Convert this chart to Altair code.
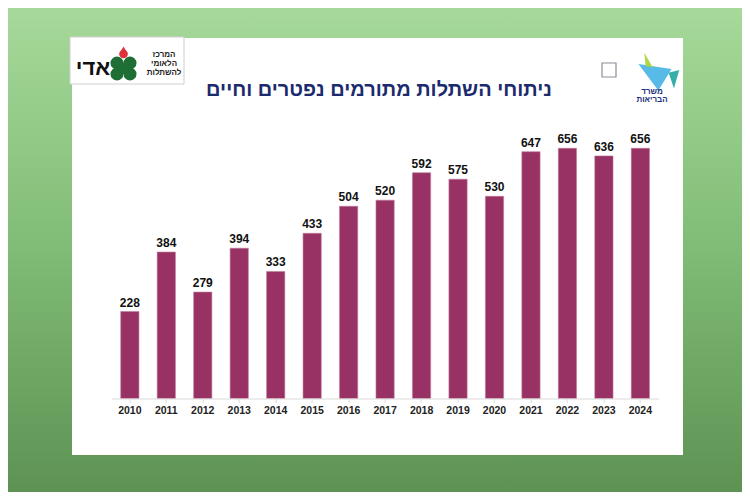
import altair as alt
import pandas as pd

years = ["2010", "2011", "2012", "2013", "2014", "2015", "2016", "2017",
         "2018", "2019", "2020", "2021", "2022", "2023", "2024"]
values = [228, 384, 279, 394, 333, 433, 504, 520, 592, 575, 530, 647, 656, 636, 656]
title_text = "ניתוחי השתלות מתורמים נפטרים וחיים"

df = pd.DataFrame({"year": years, "value": values})
dummy = alt.Data(values=[{}])

# view (plot area) geometry within the 734x484 canvas
W, H = 547, 267
PL, PT = 103.6, 123.5
CW, CH = 734, 484

grad = alt.LinearGradient(
    gradient="linear",
    stops=[alt.GradientStop(color="#a6d99a", offset=0),
           alt.GradientStop(color="#80bc76", offset=0.5),
           alt.GradientStop(color="#5d9253", offset=1)],
    x1=0, x2=0, y1=0, y2=1)

bg = alt.Chart(dummy).mark_rect(fill=grad).encode(
    x=alt.value(-PL), x2=alt.value(CW - PL),
    y=alt.value(-PT), y2=alt.value(CH - PT))

def px(page_x):
    return page_x - 8 - PL

def py(page_y):
    return page_y - 8 - PT

panel = alt.Chart(dummy).mark_rect(fill="white").encode(
    x=alt.value(px(72)), x2=alt.value(px(683)),
    y=alt.value(py(38)), y2=alt.value(py(455)))

logo_box = alt.Chart(dummy).mark_rect(fill="white", stroke="#cfcfcf", strokeWidth=1).encode(
    x=alt.value(px(70)), x2=alt.value(px(184)),
    y=alt.value(py(37)), y2=alt.value(py(84)))

def txt(s, x, y, size, color="#111", weight="bold", align="center", font="Liberation Sans"):
    return alt.Chart(dummy).mark_text(
        fontSize=size, fontWeight=weight, color=color, align=align,
        baseline="middle", font=font).encode(
        x=alt.value(px(x)), y=alt.value(py(y)), text=alt.value(s))

def dot(x, y, size, color, shape="circle"):
    return alt.Chart(dummy).mark_point(
        filled=True, size=size, color=color, shape=shape, opacity=1).encode(
        x=alt.value(px(x)), y=alt.value(py(y)))

# left logo (ADI)
adi = txt("אדי", 93, 68, 22, "#111", "bold")
G = "#1f6e35"
clover = [dot(117, 63, 170, G), dot(130, 63, 170, G),
          dot(117, 74, 170, G), dot(130, 74, 170, G),
          dot(123.5, 68.5, 120, G),
          dot(123.5, 50, 70, "#e0303a", "triangle-up"),
          dot(123.5, 54, 75, "#e0303a")]
adi_lines = [txt("המרכז", 164, 55, 8, "#222", "bold"),
             txt("הלאומי", 164, 64, 8, "#222", "bold"),
             txt("להשתלות", 164, 73, 8, "#222", "bold")]

# right logo (Ministry of Health)
emblem = alt.Chart(dummy).mark_rect(fill="white", stroke="#8a8f99", strokeWidth=1.2).encode(
    x=alt.value(px(602)), x2=alt.value(px(616)),
    y=alt.value(py(63)), y2=alt.value(py(77)))
star = [
    alt.Chart(dummy).mark_point(filled=True, opacity=0.95, color="#4fb7e6",
        shape="M -1 -0.6 L 1 -0.3 L 0.2 1 Z", size=1100).encode(
        x=alt.value(px(655)), y=alt.value(py(74))),
    alt.Chart(dummy).mark_point(filled=True, opacity=0.9, color="#a9d33a",
        shape="M -0.3 -1 L 0.4 0.2 L -0.2 0.1 Z", size=600).encode(
        x=alt.value(px(648)), y=alt.value(py(65))),
    alt.Chart(dummy).mark_point(filled=True, opacity=0.9, color="#21a6a0",
        shape="M 0.2 -0.4 L 1 -0.6 L 0.6 0.8 Z", size=700).encode(
        x=alt.value(px(666)), y=alt.value(py(78))),
]
moh = [txt("משרד", 652, 92, 8, "#1b2f7a", "bold"),
       txt("הבריאות", 652, 100, 8, "#1b2f7a", "bold")]

title = txt(title_text, 379, 90, 20, "#1c2a6e", "bold")

bars = alt.Chart(df).mark_bar(color="#983264", stroke="#c07a9a", strokeWidth=0.6).encode(
    x=alt.X("year:N", sort=years, title=None,
            scale=alt.Scale(paddingInner=0.5, paddingOuter=0.25),
            axis=alt.Axis(labelAngle=0, labelFontSize=10.5, labelFontWeight="bold",
                          labelColor="#222", labelFont="Liberation Sans",
                          domainColor="#d9d9d9", tickColor="#d9d9d9",
                          tickSize=4, labelPadding=3, zindex=1)),
    y=alt.Y("value:Q", scale=alt.Scale(domain=[0, 700]), axis=None))

labels = alt.Chart(df).mark_text(
    dy=-5, baseline="alphabetic", fontSize=12, fontWeight="bold",
    color="#111", font="Liberation Sans").encode(
    x=alt.X("year:N", sort=years),
    y=alt.Y("value:Q"),
    text=alt.Text("value:Q"))

chart = alt.layer(
    bg, panel, logo_box, adi, *clover, *adi_lines, emblem, *star, *moh, title,
    bars, labels
).properties(
    width=W, height=H,
    padding={"left": PL, "top": PT, "right": CW - PL - W, "bottom": CH - PT - H},
    autosize=alt.AutoSizeParams(type="none"),
).configure_view(stroke=None).configure_axis(grid=False)

chart.save("out.html", embed_options={"renderer": "svg", "actions": False})
